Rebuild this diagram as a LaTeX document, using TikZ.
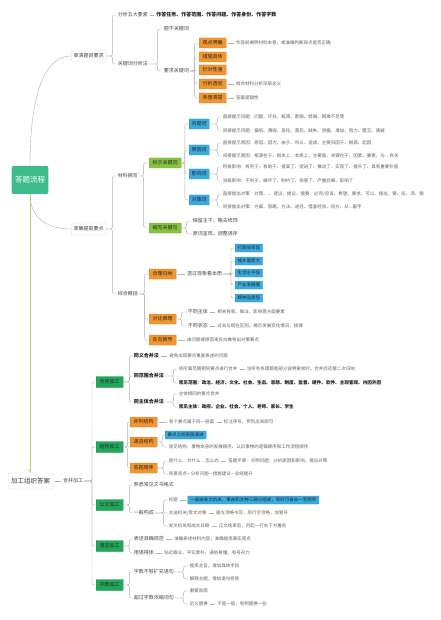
\documentclass[tikz,border=0pt]{standalone}
\usepackage{fontspec}
\newfontfamily\cjk{Noto Sans CJK SC}
\usetikzlibrary{positioning}
\usetikzlibrary{arrows.meta}
\definecolor{flowGreen}{HTML}{3DBB8B}
\definecolor{boxOrange}{HTML}{F2962F}
\definecolor{boxBlue}{HTML}{3AAADF}
\definecolor{boxLime}{HTML}{88C43F}
\definecolor{boxGreen}{HTML}{22A85A}
\definecolor{trunkGreen}{HTML}{A6DA72}
\tikzset{%
	% Specifications for style of nodes:
	base/.style = {rectangle, inner sep=0.6pt, anchor=west, text=black!62,
		font=\cjk\fontsize{4.5}{5}\selectfont},
	midText/.style = {base, text=black!72, font=\cjk\fontsize{5}{6}\selectfont},
	leafBold/.style = {base, text=black!88, font=\cjk\bfseries\fontsize{5}{6}\selectfont},
	topic/.style = {base, draw=black!15, fill=white, rounded corners=1.5pt,
		inner xsep=2.5pt, minimum height=12pt, text=black!75,
		font=\cjk\fontsize{5}{6}\selectfont},
	orangeBox/.style = {base, fill=boxOrange, draw=boxOrange!85!black, rounded corners=0.5pt,
		inner xsep=3.5pt, minimum height=10pt, text=black!85,
		font=\cjk\fontsize{5}{6}\selectfont},
	blueBox/.style = {orangeBox, fill=boxBlue, draw=boxBlue!85!black},
	smallBlue/.style = {blueBox, inner xsep=2.5pt, minimum height=8pt,
		font=\cjk\fontsize{4.5}{5}\selectfont},
	limeBox/.style = {orangeBox, fill=boxLime, draw=boxLime!85!black},
	greenBox/.style = {orangeBox, fill=boxGreen, draw=boxGreen!85!black, minimum height=11pt},
	conn/.style = {draw=black!30, line width=0.4pt, rounded corners=2pt},
	joinLine/.style = {conn, shorten <=1.5pt, shorten >=1.5pt}
}

\begin{document}
\begin{tikzpicture}[x=1pt, y=-1pt]
	\useasboundingbox[fill=white] (0,0) rectangle (440,620);

	% main flow
	\node (flow) [rectangle, fill=flowGreen, rounded corners=2pt, minimum width=35pt,
		minimum height=28pt, text=white, font=\cjk\fontsize{7.5}{9}\selectfont] at (30,180) {答题流程};
	\node (review) [topic] at (71,56) {审清题目要求};
	\node (extract) [topic] at (71,229) {准确提取要点};
	\node (organize) [topic, minimum height=16pt, inner xsep=3pt,
		font=\cjk\fontsize{6.5}{8}\selectfont] at (8,481) {加工组织答案};
	\draw[conn] (flow.north) .. controls +(0,-75) and +(-25,0) .. (review.west);
	\draw[conn] (flow.south) .. controls +(0,25) and +(-22,0) .. (extract.west);
	\draw[trunkGreen, line width=0.7pt, -{Stealth[length=3.5pt]}] (flow.south) -- (flow.south |- organize.north);

	% review
	\node (fiveElem) [midText] at (117,15) {分析五大要素};
	\node (fiveText) [leafBold, right=7pt of fiveElem] {作答任务、作答范围、作答问题、作答身份、作答字数};
	\node (kwMethod) [midText] at (117,64) {关键词分析法};
	\node (stemKw) [midText] at (163,29) {题干关键词};
	\node (reqKw) [midText] at (163,71) {要求关键词};
	\node (viewClear) [orangeBox] at (199,43) {观点明确};
	\node (viewText) [base, right=9pt of viewClear] {作答前阐明材料本意，或准确判断观点是否正确};
	\node (measure) [orangeBox] at (199,57) {措施具体};
	\node (targeted) [orangeBox] at (199,70) {针对性强};
	\node (analysis) [orangeBox] at (199,84) {分析透彻};
	\node (analysisText) [base, right=9pt of analysis] {结合材料分析深层含义};
	\node (logic) [orangeBox] at (199,98) {条理清楚};
	\node (logicText) [base, right=9pt of logic] {答案逻辑性};
	\foreach \c in {fiveElem, kwMethod}
		\draw[conn] (review.east) -- ++(6,0) |- (\c.west);
	\foreach \c in {stemKw, reqKw}
		\draw[conn] (kwMethod.east) -- ++(9,0) |- (\c.west);
	\foreach \c in {viewClear, measure, targeted, analysis, logic}
		\draw[conn] (reqKw.east) -- ++(5,0) |- (\c.west);
	\draw[joinLine] (fiveElem) -- (fiveText);
	\draw[joinLine] (viewClear) -- (viewText);
	\draw[joinLine] (analysis) -- (analysisText);
	\draw[joinLine] (logic) -- (logicText);

	% extract
	\node (material) [midText] at (117,176) {材料摘写};
	\node (markKw) [limeBox] at (149,163) {标示关键词};
	\node (probWord) [blueBox, inner xsep=2.5pt] at (189,124) {问题词};
	\node (causeWord) [blueBox, inner xsep=2.5pt] at (189,150) {原因词};
	\node (effectWord) [blueBox, inner xsep=2.5pt] at (189,174) {影响词};
	\node (measureWord) [blueBox, inner xsep=2.5pt] at (189,200) {对策词};
	\node (probA) [base] at (222,117) {直接提示问题：问题、坏处、瓶颈、弊病、弊端、困难不足等};
	\node (probB) [base] at (222,131) {间接提示问题：偏低、薄弱、恶化、落后、缺失、泄露、增加、阻力、匮乏、质疑};
	\node (causeA) [base] at (222,143) {直接提示原因：原因、因为、由于、所以、造成、主要归因于、根源、起因};
	\node (causeB) [base] at (222,156) {间接提示原因：根源在于、根本上、本质上、主要是、关键在于、因素、要素、与…有关};
	\node (effectA) [base] at (222,167) {积极影响：有利于、有助于、提高了、促进了、推动了、实现了、提升了、具有重要价值};
	\node (effectB) [base] at (222,181) {消极影响：不利于、破坏了、制约了、损害了、严重后果、影响了};
	\node (measureA) [base] at (222,194) {直接提出对策：对策、.、建议、提议、需要、必须/应该、希望、要求、可以、提出、要、应、须、需};
	\node (measureB) [base] at (222,207) {间接提出对策：方案、思路、方法、途径、借鉴经验、良方、从...着手};
	\node (shortKey) [limeBox] at (149,228) {缩写关键句};
	\node (keepMain) [midText] at (192,221) {保留主干、略去修饰};
	\node (origWords) [midText] at (192,234) {原词呈现、调整语序};
	\node (summary) [midText] at (117,294) {综合概括};
	\node (induce) [orangeBox] at (149,274) {合理归纳};
	\node (essence) [midText, right=10pt of induce] {透过现象看本质};
	\node (essA) [smallBlue] at (235,248) {行政效率低};
	\node (essB) [smallBlue] at (235,261) {城乡差距大};
	\node (essC) [smallBlue] at (235,273) {生活水平低};
	\node (essD) [smallBlue] at (235,285) {产业发展慢};
	\node (essE) [smallBlue] at (235,298) {精神品质低};
	\node (compare) [orangeBox] at (149,319) {对比推理};
	\node (diffSubj) [midText] at (187,312) {不同主体};
	\node (diffSubjText) [base, right=8pt of diffSubj] {相关背景、做法、影响等方面要素};
	\node (diffState) [midText] at (187,326) {不同状态};
	\node (diffStateText) [base, right=8pt of diffState] {过去与现在区别，揭示发展变化情况、规律};
	\node (reverse) [orangeBox] at (149,340) {反向推导};
	\node (reverseText) [base, right=10pt of reverse] {由问题或原因来反向推导出对策要点};
	\foreach \c in {material, summary}
		\draw[conn] (extract.east) -- ++(6,0) |- (\c.west);
	\foreach \c in {markKw, shortKey}
		\draw[conn] (material.east) -- ++(5,0) |- (\c.west);
	\foreach \c in {probWord, causeWord, effectWord, measureWord}
		\draw[conn] (markKw.east) -- ++(3.5,0) |- (\c.west);
	\foreach \c in {probA, probB}
		\draw[conn] (probWord.east) -- ++(8,0) |- (\c.west);
	\foreach \c in {causeA, causeB}
		\draw[conn] (causeWord.east) -- ++(8,0) |- (\c.west);
	\foreach \c in {effectA, effectB}
		\draw[conn] (effectWord.east) -- ++(8,0) |- (\c.west);
	\foreach \c in {measureA, measureB}
		\draw[conn] (measureWord.east) -- ++(8,0) |- (\c.west);
	\foreach \c in {keepMain, origWords}
		\draw[conn] (shortKey.east) -- ++(5,0) |- (\c.west);
	\foreach \c in {induce, compare, reverse}
		\draw[conn] (summary.east) -- ++(6,0) |- (\c.west);
	\foreach \c in {essA, essB, essC, essD, essE}
		\draw[conn] (essence.east) -- ++(8,0) |- (\c.west);
	\foreach \c in {diffSubj, diffState}
		\draw[conn] (compare.east) -- ++(5,0) |- (\c.west);
	\draw[joinLine] (induce) -- (essence);
	\draw[joinLine] (diffSubj) -- (diffSubjText);
	\draw[joinLine] (diffState) -- (diffStateText);
	\draw[joinLine] (reverse) -- (reverseText);

	% organize
	\node (mergeLbl) [midText, right=9pt of organize] {合并加工};
	\node (mergeBox) [greenBox] at (96,382) {合并加工};
	\node (structBox) [greenBox] at (96,447) {结构加工};
	\node (docBox) [greenBox] at (96,505) {公文加工};
	\node (langBox) [greenBox] at (96,546) {语言加工};
	\node (wordBox) [greenBox] at (96,585) {字数加工};
	\draw[joinLine] (organize) -- (mergeLbl);
	\foreach \c in {mergeBox, structBox, docBox, langBox, wordBox}
		\draw[conn] (mergeLbl.east) -- ++(8,0) |- (\c.west);

	\node (synMerge) [leafBold] at (133,356) {同义合并法};
	\node (synText) [base, right=9pt of synMerge] {避免出现要点重复表述的问题};
	\node (rangeMerge) [leafBold] at (133,376) {同范围合并法};
	\node (rangeA) [base] at (178,369) {将所属范围相同要点进行合并};
	\node (rangeANote) [base, right=8pt of rangeA] {当所有条理都是部分说明要求时，合并后还需二次归纳};
	\node (rangeB) [leafBold, font=\cjk\bfseries\fontsize{4.6}{5}\selectfont] at (178,383) {常见范围：政治、经济、文化、社会、生态、思想、制度、监督、硬件、软件、主观客观、内因外因};
	\node (subjMerge) [leafBold] at (133,402) {同主体合并法};
	\node (subjA) [base] at (178,394) {主体相同的要点合并};
	\node (subjB) [leafBold, font=\cjk\bfseries\fontsize{4.6}{5}\selectfont] at (178,407) {常见主体：政府、企业、社会、个人、老师、家长、学生};
	\foreach \c in {synMerge, rangeMerge, subjMerge}
		\draw[conn] (mergeBox.east) -- ++(6,0) |- (\c.west);
	\foreach \c in {rangeA, rangeB}
		\draw[conn] (rangeMerge.east) -- ++(9,0) |- (\c.west);
	\foreach \c in {subjA, subjB}
		\draw[conn] (subjMerge.east) -- ++(9,0) |- (\c.west);
	\draw[joinLine] (synMerge) -- (synText);
	\draw[joinLine] (rangeA) -- (rangeANote);

	\node (parallel) [orangeBox] at (130,422) {并列结构};
	\node (parallelText) [base, right=11pt of parallel] {各个要点属于同一层面};
	\node (parallelNote) [base, right=8pt of parallelText] {标注序号，罗列出来即可};
	\node (progress) [orangeBox] at (130,442) {递进结构};
	\node (progressTip) [smallBlue] at (165,435) {要点之间层层递进};
	\node (progressText) [base] at (168,447) {常见结构：事物本身的发展顺序、认识事物的逻辑顺序和工作流程顺序};
	\node (answerOrder) [orangeBox] at (130,468) {答题顺序};
	\node (orderA) [base] at (168,461) {是什么…为什么…怎么办};
	\node (orderANote) [base, right=8pt of orderA] {答题步骤：点明问题；分析原因和影响；提出对策};
	\node (orderB) [base] at (168,474) {背景观点—分析问题—措施建议—总结提升};
	\foreach \c in {parallel, progress, answerOrder}
		\draw[conn] (structBox.east) -- ++(4,0) |- (\c.west);
	\foreach \c in {progressTip, progressText}
		\draw[conn] (progress.east) -- ++(5,0) |- (\c.west);
	\foreach \c in {orderA, orderB}
		\draw[conn] (answerOrder.east) -- ++(6,0) |- (\c.west);
	\draw[joinLine] (parallel) -- (parallelText);
	\draw[joinLine] (parallelText) -- (parallelNote);
	\draw[joinLine] (orderA) -- (orderANote);

	\node (formatKnow) [midText] at (133,485) {熟悉常见文书格式};
	\node (general) [midText] at (133,513) {一般构成};
	\node (titleLbl) [base] at (168,500) {标题};
	\node (titleText) [smallBlue, right=9pt of titleLbl] {一般由发文机关、事由和文种三部分组成，有时可省去一至两项};
	\node (recipient) [base] at (168,513) {主送机关/受文对象};
	\node (recipientText) [base, right=8pt of recipient] {居左顶格书写，后行空顶格，加冒号};
	\node (issuer) [base] at (168,526) {发文机关和成文日期};
	\node (issuerText) [base, right=8pt of issuer] {正文结束后，另起一行右下方署名};
	\foreach \c in {formatKnow, general}
		\draw[conn] (docBox.east) -- ++(6,0) |- (\c.west);
	\foreach \c in {titleLbl, recipient, issuer}
		\draw[conn] (general.east) -- ++(9,0) |- (\c.west);
	\draw[joinLine] (titleLbl) -- (titleText);
	\draw[joinLine] (recipient) -- (recipientText);
	\draw[joinLine] (issuer) -- (issuerText);

	\node (accurate) [midText] at (133,539) {表述准确规范};
	\node (accurateText) [base, right=9pt of accurate] {准确表述材料内容；准确提炼事实观点};
	\node (proper) [midText] at (133,553) {用语得体};
	\node (properText) [base, right=9pt of proper] {贴近群众、平实素朴、通俗易懂、有号召力};
	\foreach \c in {accurate, proper}
		\draw[conn] (langBox.east) -- ++(6,0) |- (\c.west);
	\draw[joinLine] (accurate) -- (accurateText);
	\draw[joinLine] (proper) -- (properText);

	\node (expand) [midText] at (133,572) {字数不够扩充语句};
	\node (expandA) [base] at (189,566) {提炼主旨，增加具体手段};
	\node (expandB) [base] at (189,579) {解释主题，增加语句修饰};
	\node (shrink) [midText] at (133,598) {超过字数浓缩词句};
	\node (shrinkA) [base] at (189,591) {删繁就简};
	\node (shrinkB) [base] at (189,604) {近义替换};
	\node (shrinkBText) [base, right=8pt of shrinkB] {不是一般，有例替换一些};
	\foreach \c in {expand, shrink}
		\draw[conn] (wordBox.east) -- ++(6,0) |- (\c.west);
	\foreach \c in {expandA, expandB}
		\draw[conn] (expand.east) -- ++(9,0) |- (\c.west);
	\foreach \c in {shrinkA, shrinkB}
		\draw[conn] (shrink.east) -- ++(9,0) |- (\c.west);
	\draw[joinLine] (shrinkB) -- (shrinkBText);
\end{tikzpicture}
\end{document}
